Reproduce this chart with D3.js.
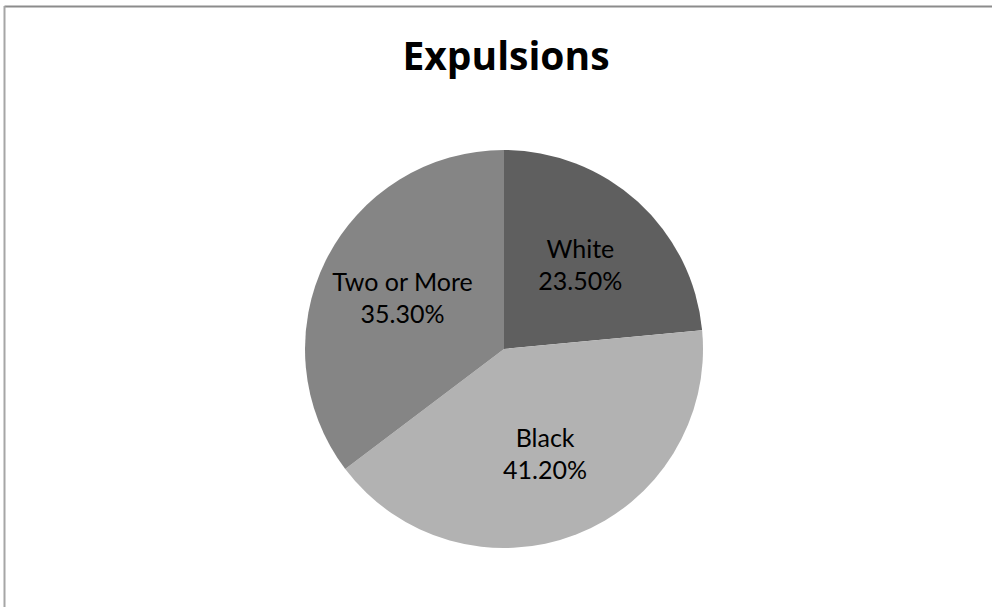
<!DOCTYPE html>
<html>
<head>
<meta charset="utf-8">
<script src="https://cdn.jsdelivr.net/npm/d3@7"></script>
<style>
  html, body { margin: 0; padding: 0; background: #fff; }
  svg { display: block; }
</style>
</head>
<body>
<svg id="chart" width="993" height="607"></svg>
<script>
// Expulsions by race/ethnicity
const categories = ["White", "Black", "Two or More"];
const shares = [23.5, 41.2, 35.3];
const sliceColors = ["#5f5f5f", "#b2b2b2", "#858585"];
const chartTitle = "Expulsions";

const width = 993, height = 607;
const svg = d3.select("#chart");

// chart frame (top and left edges visible)
svg.append("line").attr("x1", 4.5).attr("y1", 6.5).attr("x2", 992).attr("y2", 6.5)
  .attr("stroke", "#8c8c8c").attr("stroke-width", 2);
svg.append("line").attr("x1", 4.5).attr("y1", 6).attr("x2", 4.5).attr("y2", height)
  .attr("stroke", "#a6a6a6").attr("stroke-width", 2);

svg.append("text")
  .attr("x", 506).attr("y", 70)
  .attr("text-anchor", "middle")
  .attr("font-family", "'Open Sans', Lato, sans-serif")
  .attr("font-weight", "bold")
  .attr("font-size", 39)
  .attr("fill", "#000")
  .text(chartTitle);

const cx = 504, cy = 349, r = 199;
const data = categories.map((c, i) => ({ name: c, value: shares[i], color: sliceColors[i] }));

const pie = d3.pie().value(d => d.value).sort(null);
const arc = d3.arc().innerRadius(0).outerRadius(r);
const labelArc = d3.arc().innerRadius(r * 0.57).outerRadius(r * 0.57);

const g = svg.append("g").attr("transform", `translate(${cx},${cy})`);
const arcs = pie(data);

g.selectAll("path.slice").data(arcs).enter().append("path")
  .attr("class", "slice")
  .attr("d", arc)
  .attr("fill", d => d.data.color);

const labels = g.selectAll("text.lbl").data(arcs).enter().append("text")
  .attr("class", "lbl")
  .attr("transform", d => `translate(${labelArc.centroid(d)})`)
  .attr("text-anchor", "middle")
  .attr("font-family", "Lato, 'Open Sans', sans-serif")
  .attr("font-size", 25)
  .attr("fill", "#000");
labels.append("tspan").attr("x", 0).attr("dy", "-0.3em").text(d => d.data.name);
labels.append("tspan").attr("x", 0).attr("dy", "1.28em").text(d => d.data.value.toFixed(2) + "%");
</script>
</body>
</html>
